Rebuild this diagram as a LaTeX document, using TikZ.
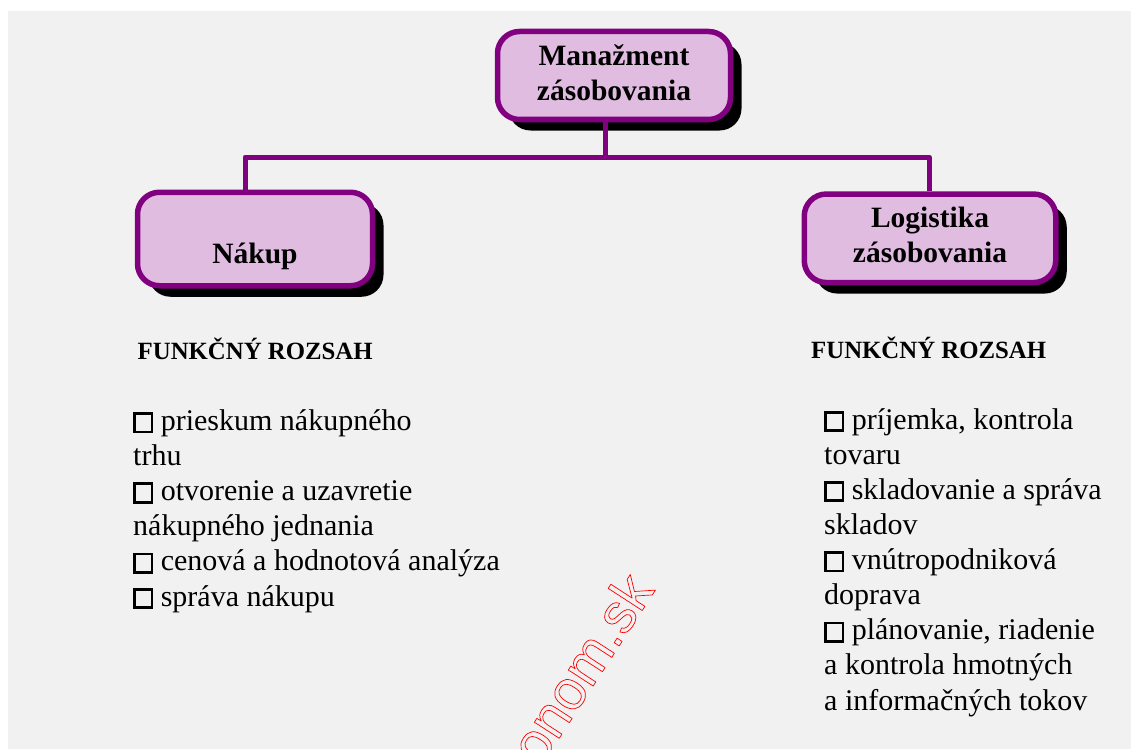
\documentclass[tikz,border=0pt]{standalone}
\usepackage{fontspec}
\setmainfont{Liberation Serif}
\setsansfont{Liberation Sans}
\usepackage{tikz}
\usetikzlibrary{shadows,positioning}

\definecolor{fialova}{RGB}{128,0,128}
\definecolor{ruzova}{RGB}{224,188,224}
\definecolor{pozadie}{RGB}{241,241,241}

\newcommand{\stvorec}{{\setlength{\fboxrule}{2.8pt}\setlength{\fboxsep}{0pt}\fbox{\rule{0pt}{15.5pt}\hspace{14.5pt}}}}

\begin{document}
\begin{tikzpicture}[x=1pt,y=-1pt,line join=round]
  \tikzstyle{box}=[draw=fialova,line width=5.5pt,fill=ruzova,rounded corners=22pt,
                   align=center,text height=49pt,text depth=0pt,
                   font=\fontsize{29.5}{35}\selectfont\bfseries,
                   drop shadow={shadow xshift=11pt,shadow yshift=-11pt,fill=black,opacity=1}]
  \tikzstyle{spoj}=[draw=fialova,line width=5pt]
  \tikzstyle{nadpis}=[anchor=base west,inner sep=0pt,font=\fontsize{24.8}{30}\selectfont\bfseries]
  \tikzstyle{zoznam}=[anchor=base west,inner sep=0pt,align=left,font=\fontsize{30}{35.1}\selectfont]

  \useasboundingbox (0,0) rectangle (1131,749);
  \fill[pozadie] (8,11) rectangle (1131,749);

  % vodotlac
  \begin{scope}
    \clip (8,11) rectangle (1131,749);
    \node[text=red,rotate=57,font=\fontsize{56}{56}\selectfont\sffamily] (W) at (581,668)
      {\special{pdf:literal direct 1 Tr 0.7 w}onom.sk\special{pdf:literal direct 0 Tr}};
  \end{scope}

  \node[box,minimum width=233pt,minimum height=88pt]    (A) at (614,75.5) {Manažment\\zásobovania};
  \node[box,minimum width=235pt,minimum height=93.5pt]  (B) at (255,239)  {\mbox{}\\Nákup};
  \node[box,minimum width=251.5pt,minimum height=88.5pt] (C) at (930,238.3) {Logistika\\zásobovania};

  \coordinate (bus) at (605,157);
  \draw[spoj] (A.south -| bus) -- (bus);
  \draw[spoj] (bus) -| ([xshift=-10pt]B.north);
  \draw[spoj] (bus) -| ([xshift=-1pt]C.north);

  \node[nadpis] (D) at (137.5,359.3) {FUNKČNÝ ROZSAH};
  \node[nadpis] (E) at (811,358)     {FUNKČNÝ ROZSAH};

  \node[zoznam] (F) at (133,606) {
    \stvorec\ prieskum nákupného\\
    trhu\\
    \stvorec\ otvorenie a uzavretie\\
    nákupného jednania\\
    \stvorec\ cenová a hodnotová analýza\\
    \stvorec\ správa nákupu};
  \node[zoznam] (G) at (824,710) {
    \stvorec\ príjemka, kontrola\\
    tovaru\\
    \stvorec\ skladovanie a správa\\
    skladov\\
    \stvorec\ vnútropodniková\\
    doprava\\
    \stvorec\ plánovanie, riadenie\\
    a kontrola hmotných\\
    a informačných tokov};
\end{tikzpicture}
\end{document}
